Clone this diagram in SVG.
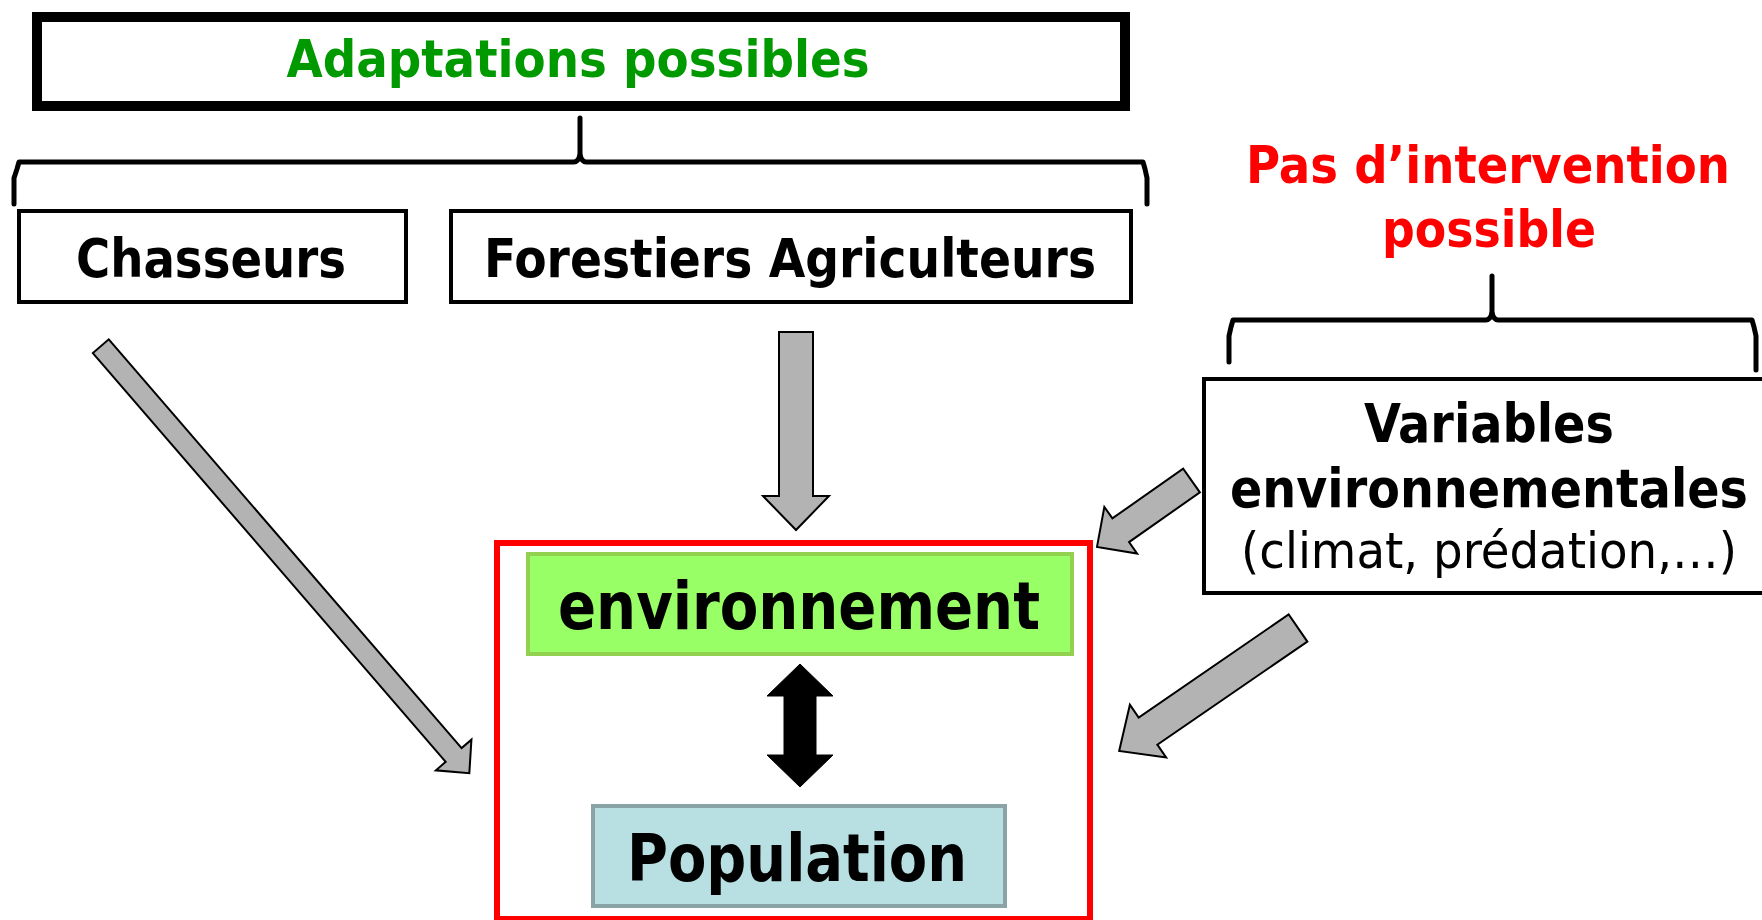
<svg xmlns="http://www.w3.org/2000/svg" width="1762" height="920" viewBox="0 0 1762 920">
<style>
.t{font-family:"DejaVu Sans Condensed","DejaVu Sans","Liberation Sans",sans-serif;font-weight:bold;text-anchor:middle;}
.r{font-family:"DejaVu Sans Condensed","DejaVu Sans","Liberation Sans",sans-serif;font-weight:normal;text-anchor:middle;}
.box{fill:#ffffff;stroke:#000000;stroke-width:4;}
.arr{fill:#b3b3b3;stroke:#000000;stroke-width:2;stroke-linejoin:miter;}
.brace{fill:none;stroke:#000000;stroke-width:5;stroke-linecap:round;stroke-linejoin:round;}
</style>
<rect width="1762" height="920" fill="#ffffff"/>

<g id="adaptations">
<rect x="37" y="17" width="1088" height="89" fill="#ffffff" stroke="#000000" stroke-width="10"/>
<text class="t" x="578" y="77" font-size="52" fill="#009900" textLength="583" lengthAdjust="spacingAndGlyphs">Adaptations possibles</text>
</g>

<g id="chasseurs">
<rect class="box" x="19" y="211" width="387" height="91"/>
<text class="t" x="211" y="277" font-size="53" fill="#000000" textLength="270" lengthAdjust="spacingAndGlyphs">Chasseurs</text>
</g>

<g id="forestiers">
<rect class="box" x="451" y="211" width="680" height="91"/>
<text class="t" x="790" y="277" font-size="53" fill="#000000" textLength="612" lengthAdjust="spacingAndGlyphs">Forestiers Agriculteurs</text>
</g>

<g id="pas-intervention">
<text class="t" x="1488" y="183" font-size="51" fill="#ff0000" textLength="484" lengthAdjust="spacingAndGlyphs">Pas d’intervention</text>
<text class="t" x="1489" y="247" font-size="51" fill="#ff0000" textLength="214" lengthAdjust="spacingAndGlyphs">possible</text>
</g>

<g id="variables">
<rect class="box" x="1204" y="379" width="570" height="214"/>
<text class="t" x="1489" y="442" font-size="53" fill="#000000" textLength="250" lengthAdjust="spacingAndGlyphs">Variables</text>
<text class="t" x="1489" y="507" font-size="53" fill="#000000" textLength="518" lengthAdjust="spacingAndGlyphs">environnementales</text>
<text class="r" x="1489" y="568" font-size="50" fill="#000000" textLength="496" lengthAdjust="spacingAndGlyphs">(climat, prédation,…)</text>
</g>

<g id="systeme">
<rect x="497" y="543" width="593" height="376" fill="#ffffff" stroke="#ff0000" stroke-width="6"/>
</g>

<g id="environnement">
<rect x="528" y="554" width="544" height="100" fill="#99ff66" stroke="#92d050" stroke-width="4"/>
<text class="t" x="799" y="629" font-size="66" fill="#000000" textLength="482" lengthAdjust="spacingAndGlyphs">environnement</text>
</g>

<g id="population">
<rect x="593" y="806" width="412" height="100" fill="#b8e0e3" stroke="#8aa3a6" stroke-width="4"/>
<text class="t" x="797" y="881" font-size="66" fill="#000000" textLength="340" lengthAdjust="spacingAndGlyphs">Population</text>
</g>

<g id="connectors">
<path class="brace" d="M14 204 L14 178 L17 169 L19 162 L574 162 Q578 162 580 155 L580 118"/>
<path class="brace" d="M580 155 Q582 162 586 162 L1143 162 L1145 169 L1147 178 L1147 204"/>
<path class="brace" d="M1229 362 L1229 336 L1231 327 L1233 320 L1486 320 Q1490 320 1492 313 L1492 276"/>
<path class="brace" d="M1492 313 Q1494 320 1498 320 L1752 320 L1754 327 L1756 336 L1756 370"/>

<polygon class="arr" transform="translate(100.8,346.2) rotate(49.2)" points="0,-10.5 540,-10.5 540,-23.5 564,0 540,23.5 540,10.5 0,10.5"/>
<polygon class="arr" points="779,332 813,332 813,496 829,496 796,530 763,496 779,496"/>
<polygon class="arr" transform="translate(1191.5,480.5) rotate(144.9)" points="0,-14.5 86.5,-14.5 86.5,-28.5 115.5,0 86.5,28.5 86.5,14.5 0,14.5"/>
<polygon class="arr" transform="translate(1298,628) rotate(145.5)" points="0,-16.5 182,-16.5 182,-32 217,0 182,32 182,16.5 0,16.5"/>

<polygon fill="#000000" stroke="#000000" stroke-width="1" points="800,664 833,696 816,696 816,755 833,755 800,787 767,755 784,755 784,696 767,696"/>
</g>
</svg>
